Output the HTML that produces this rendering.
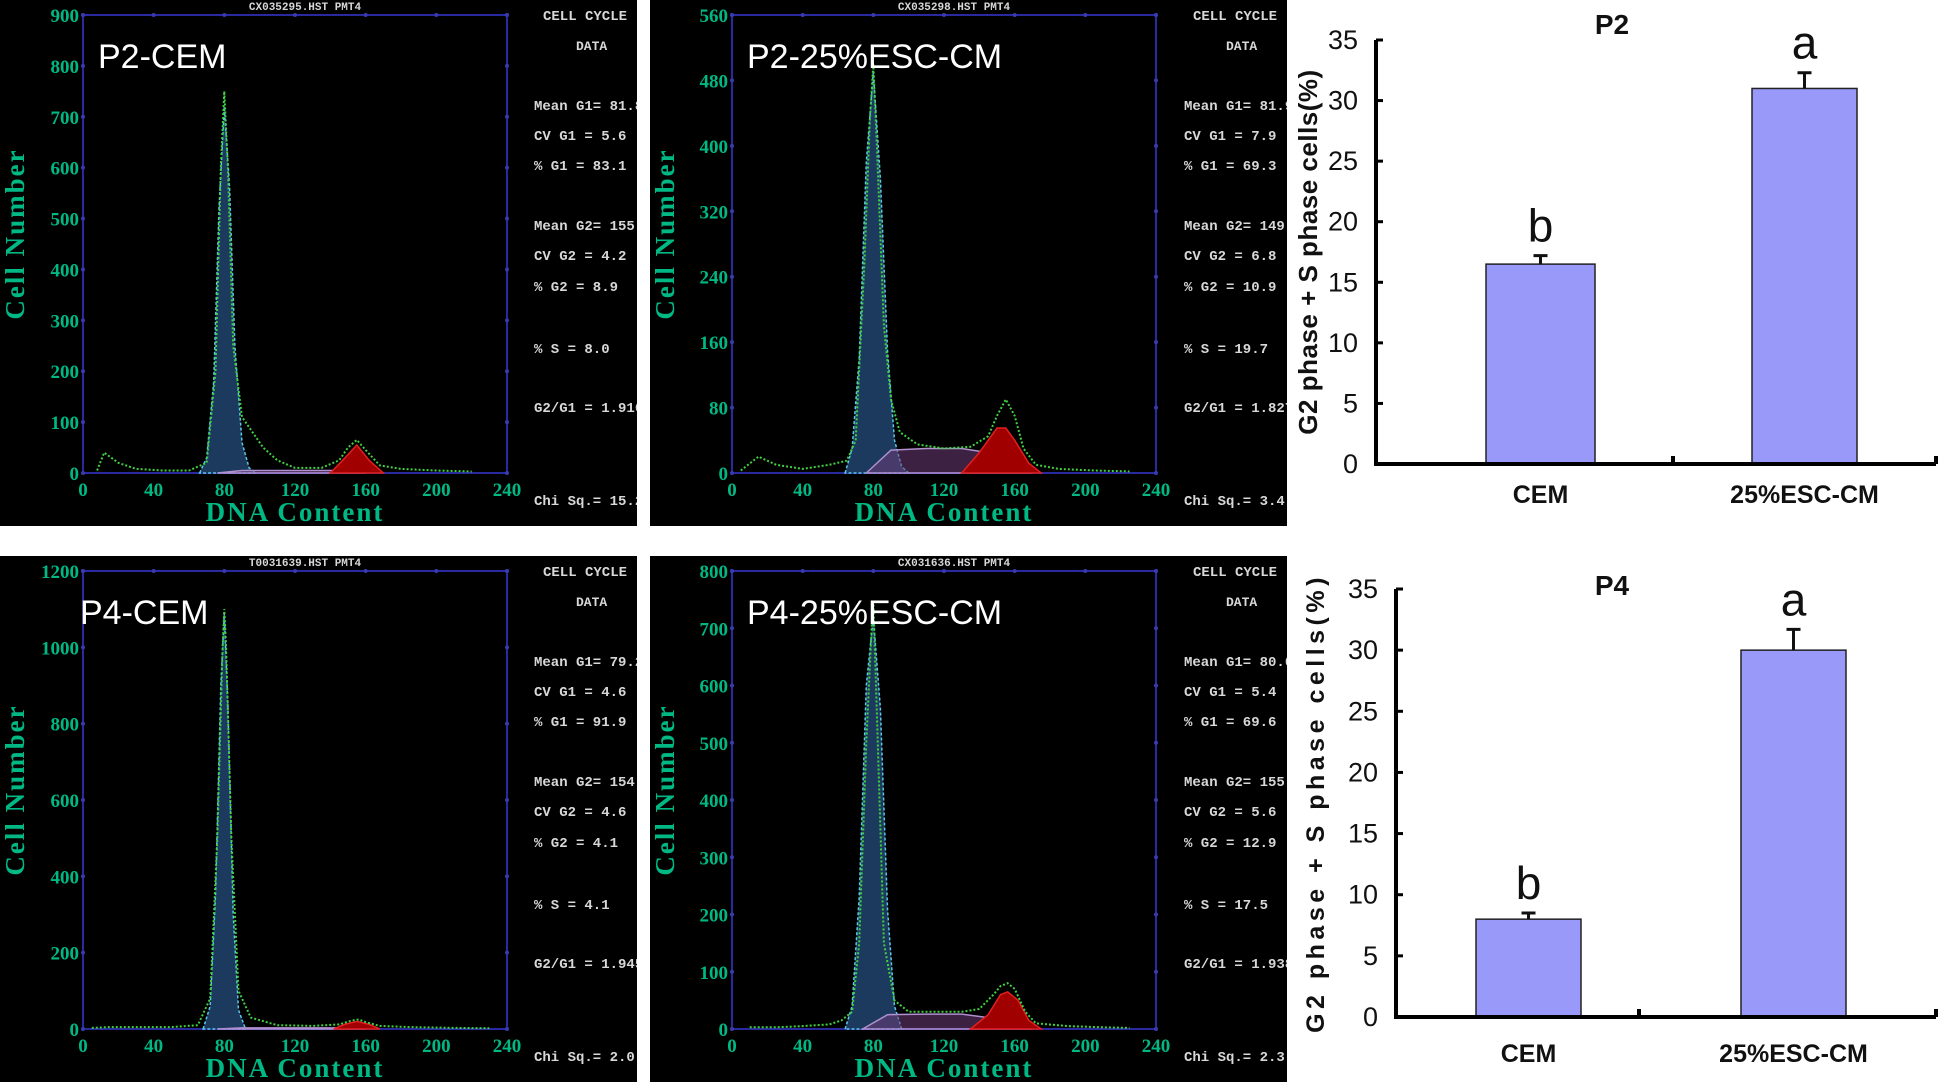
<!DOCTYPE html>
<html><head><meta charset="utf-8"><style>
html,body{margin:0;padding:0;background:#fff;}
svg{display:block;}
.tk{font-family:"Liberation Serif",serif;font-weight:bold;fill:#00b884;}
.st{font-family:"Liberation Mono",monospace;font-weight:bold;fill:#d8d8d8;}
.bt{font-family:"Liberation Sans",sans-serif;fill:#111;}
</style></head><body>
<svg id="fig" width="1940" height="1082" viewBox="0 0 1940 1082" xmlns="http://www.w3.org/2000/svg"></svg>
<script>
// ---------- Histogram data (DNA content bins, counts) ----------
const histTitles = ["P2-CEM","P2-25%ESC-CM","P4-CEM","P4-25%ESC-CM"];
const histFiles = ["CX035295.HST PMT4","CX035298.HST PMT4","T0031639.HST PMT4","CX031636.HST PMT4"];
const histYMax = [900,560,1200,800];
const histYStep = [100,80,200,100];
const xTicks = [0,40,80,120,160,200,240];
// G1 fit
const g1X = [[66,70,74,77,80,83,86,90,94,98],[64,68,72,76,80,84,88,92,96,100],[68,72,75,78,80,82,85,88,92],[64,68,72,76,80,84,88,92,96]];
const g1Y = [[0,30,180,520,720,560,250,60,10,0],[0,30,140,380,490,360,150,40,8,0],[0,60,350,900,1090,850,300,50,0],[0,40,230,600,720,560,210,40,0]];
// S phase
const sX = [[76,90,120,150,160],[76,90,110,130,145,160,170],[76,90,120,150,160],[74,88,110,130,145,160,170]];
const sY = [[0,5,5,5,0],[0,28,30,30,25,10,0],[0,3,3,3,0],[0,25,26,26,20,8,0]];
// G2 fit
const g2X = [[140,147,155,162,170],[130,140,150,155,160,168,175],[142,148,155,162,168],[135,145,152,156,162,168,175]];
const g2Y = [[0,25,55,25,0],[0,25,55,55,40,12,0],[0,12,20,12,0],[0,25,60,65,50,15,0]];
// raw data (green dotted)
const dX = [[8,12,20,30,45,60,70,75,78,80,82,85,90,96,102,110,120,135,145,150,155,160,168,180,200,220],
            [5,15,25,40,55,65,70,75,78,80,82,86,90,95,105,120,135,145,150,155,160,165,172,185,205,225],
            [5,15,30,50,65,72,76,79,80,81,84,88,95,110,130,145,152,156,160,168,185,210,230],
            [10,25,40,55,62,68,72,76,79,80,82,86,92,100,115,130,140,148,152,156,160,166,172,190,210,225]];
const dY = [[5,40,20,8,5,5,20,200,600,750,600,250,110,80,50,25,10,10,25,50,65,45,15,8,5,3],
            [3,20,10,5,10,15,40,260,430,500,400,180,90,50,35,30,32,45,70,90,70,30,10,5,3,2],
            [3,5,5,5,10,80,500,1000,1100,1000,500,100,30,10,8,12,22,25,18,8,5,3,2],
            [3,3,5,8,15,30,150,500,700,750,550,150,50,30,30,30,35,60,75,80,70,30,10,5,3,2]];
// stats
const statLabels = ["Mean G1=","CV G1  =","% G1   =","Mean G2=","CV G2  =","% G2   =","% S    =","G2/G1  =","Chi Sq.="];
const statVals = [["81.8","5.6","83.1","155.2","4.2","8.9","8.0","1.916","15.2"],
                  ["81.9","7.9","69.3","149.7","6.8","10.9","19.7","1.827","3.4"],
                  ["79.2","4.6","91.9","154.1","4.6","4.1","4.1","1.945","2.0"],
                  ["80.0","5.4","69.6","155.1","5.6","12.9","17.5","1.938","2.3"]];
const statRows = [110,140,170,230,260,291,353,412,505];

// ---------- Bar chart data ----------
const barTitles = ["P2","P4"];
const categories = ["CEM","25%ESC-CM"];
const barValues = [[16.5,31.0],[8.0,30.0]];
const barErrors = [[0.7,1.3],[0.5,1.7]];
const barLetters = [["b","a"],["b","a"]];
const yTicks = [0,5,10,15,20,25,30,35];

const NS="http://www.w3.org/2000/svg";
const svg=document.getElementById('fig');
function mk(tag,attrs,parent,text){const e=document.createElementNS(NS,tag);for(const k in attrs)e.setAttribute(k,attrs[k]);if(text!==undefined)e.textContent=text;(parent||svg).appendChild(e);return e;}

const panelPos=[[0,0],[650,0],[0,556],[650,556]];
for(let p=0;p<4;p++){
  const ox=panelPos[p][0], oy=panelPos[p][1];
  const g=mk('g',{transform:`translate(${ox},${oy})`});
  
  
  const cid='clip'+p;
  const cp=mk('clipPath',{id:cid},g);mk('rect',{x:0,y:0,width:637,height:526},cp);
  const inner=mk('g',{'clip-path':`url(#${cid})`},g);
  mk('rect',{x:0,y:0,width:637,height:526,fill:'#000'},inner);
  const X0=p%2===0?83:82, X1=X0+424, Y0=473, Y1=15;
  const sx=v=>X0+(v/240)*(X1-X0);
  const sy=v=>Y0-(v/histYMax[p])*(Y0-Y1);
  const fr=mk('rect',{x:X0,y:Y1,width:X1-X0,height:Y0-Y1,fill:'none',stroke:'#2a2aa0','stroke-width':2},inner);
  
  for(let v=0;v<=histYMax[p];v+=histYStep[p]){
    const t=mk('text',{x:X0-4,y:sy(v)+7,'text-anchor':'end',class:'tk',style:'font-size:19px'},inner,String(v));
    
    mk('circle',{cx:X0,cy:sy(v),r:2,fill:'#3a3ab0'},inner);mk('circle',{cx:X1,cy:sy(v),r:2,fill:'#3a3ab0'},inner);
  }
  xTicks.forEach(v=>{
    const t=mk('text',{x:sx(v),y:Y0+23,'text-anchor':'middle',class:'tk',style:'font-size:19px'},inner,String(v));
    
    mk('circle',{cx:sx(v),cy:Y1,r:2,fill:'#3a3ab0'},inner);
  });
  const xl=mk('text',{x:(X0+X1)/2,y:Y0+48,'text-anchor':'middle',class:'tk',style:'font-size:27px;letter-spacing:2px','xml:space':'preserve'},inner,'DNA  Content');
  
  const yl=mk('text',{x:0,y:0,transform:`translate(24,${(Y0+Y1)/2-10}) rotate(-90)`,'text-anchor':'middle',class:'tk',style:'font-size:27px;letter-spacing:2px','xml:space':'preserve'},inner,'Cell  Number');
  
  const pts=(xs,ys)=>xs.map((x,i)=>`${sx(x).toFixed(1)},${sy(ys[i]).toFixed(1)}`).join(' ');
  const g1=mk('polygon',{points:pts(g1X[p],g1Y[p]),fill:'#1c3a5e',stroke:'#5ac8e8','stroke-width':1.5,'stroke-dasharray':'3,2'},inner);
  
  const s=mk('polygon',{points:pts(sX[p],sY[p]),fill:'rgba(110,60,120,0.55)',stroke:'#b090d0','stroke-width':1.5},inner);
  
  const g2=mk('polygon',{points:pts(g2X[p],g2Y[p]),fill:'#a00000',stroke:'#e02020','stroke-width':1.5},inner);
  
  const dl=mk('polyline',{points:pts(dX[p],dY[p]),fill:'none',stroke:'#40d040','stroke-width':2,'stroke-dasharray':'2,2'},inner);
  
  const ft=mk('text',{x:(X0+X1)/2+10,y:10,'text-anchor':'middle',class:'st',style:'font-size:11px'},inner,histFiles[p]);
  
  const cc=mk('text',{x:543,y:20,class:'st',style:'font-size:14px','xml:space':'preserve'},inner,'CELL  CYCLE');
  
  mk('text',{x:576,y:50,class:'st',style:'font-size:13px'},inner,'DATA');
  statLabels.forEach((l,i)=>{
    const t=mk('text',{x:534,y:statRows[i],class:'st',style:'font-size:14px','xml:space':'preserve'},inner,l+' '+statVals[p][i]);
    
  });
  const tt=mk('text',{x:p%2===0?(p===0?98:80):97,y:68,'font-family':'"Liberation Sans",sans-serif','font-size':'34',fill:'#fff'},inner,histTitles[p]);
  
}

// ---------- Bar charts ----------
const barLayout=[{ax:1376,x1:1936,top:40,bot:464,mid:1673,b:[[1486,1595],[1752,1857]],ty:22,ly:503,yl:1317,fs:26,ls:0.5},
                 {ax:1396,x1:1936,top:589,bot:1017,mid:1639,b:[[1476,1581],[1741,1846]],ty:583,ly:1062,yl:1324,fs:25,ls:4.5}];
for(let c=0;c<2;c++){
  const L=barLayout[c];
  const g=mk('g',{});
  
  
  const yS=v=>L.bot-(v/35)*(L.bot-L.top);
  categories.forEach((cat,i)=>{
    const v=barValues[c][i],e=barErrors[c][i];const [bx0,bx1]=L.b[i];const cx=(bx0+bx1)/2;
    const r=mk('rect',{x:bx0,y:yS(v),width:bx1-bx0,height:L.bot-yS(v),fill:'#9999fa',stroke:'#222','stroke-width':1.5},g);
    
    const el=mk('path',{d:`M${cx},${yS(v)} V${yS(v+e)} M${cx-7},${yS(v+e)} H${cx+7}`,stroke:'#111','stroke-width':3,fill:'none'},g);
    
    const lt=mk('text',{x:cx,y:yS(v+e)-14,'text-anchor':'middle',class:'bt','font-size':'46'},g,barLetters[c][i]);
    
    const cl=mk('text',{x:cx,y:L.ly,'text-anchor':'middle',class:'bt','font-size':'25','font-weight':'bold'},g,cat);
    
  });
  mk('path',{d:`M${L.ax},${L.top} V${L.bot} H${L.x1} M${L.mid},${L.bot} v-8 M${L.x1},${L.bot} v-8`,stroke:'#000','stroke-width':4,fill:'none'},g);
  yTicks.forEach(v=>{
    mk('line',{x1:L.ax,x2:L.ax+7,y1:yS(v),y2:yS(v),stroke:'#000','stroke-width':3},g);
    const t=mk('text',{x:L.ax-18,y:yS(v)+9,'text-anchor':'end',class:'bt','font-size':'27'},g,String(v));
    
  });
  const ti=mk('text',{x:1612,y:L.ty+12,'text-anchor':'middle',class:'bt','font-size':'28','font-weight':'bold'},g,barTitles[c]);
  
  const yt=mk('text',{x:0,y:0,transform:`translate(${L.yl},${(L.top+L.bot)/2}) rotate(-90)`,'text-anchor':'middle',class:'bt','font-size':L.fs,'font-weight':'bold','letter-spacing':L.ls},g,'G2 phase + S phase cells(%)');
  
}
</script>
</body></html>
